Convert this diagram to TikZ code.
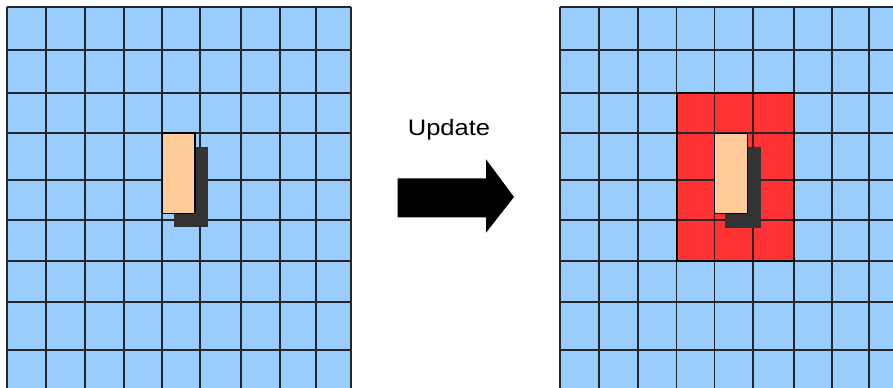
\documentclass[tikz,border=0pt]{standalone}
\usepackage{fontspec}
\setsansfont{Liberation Sans}
\usetikzlibrary{calc}
\definecolor{cellblue}{RGB}{153,204,255}
\definecolor{hitred}{RGB}{255,51,51}
\definecolor{objorange}{RGB}{255,204,153}
\definecolor{objshadow}{RGB}{51,51,51}

\begin{document}
\begin{tikzpicture}[x=0.75pt, y=-0.75pt,
  gridline/.style={draw=black!85, line width=1.4pt},
  cell/.style={fill=cellblue},
  obj/.style={draw=black, line width=1pt, fill=objorange},
  objshade/.style={fill=objshadow},
  lbl/.style={font=\sffamily\fontsize{16.8}{20}\selectfont, inner sep=0pt}]
  \useasboundingbox (0,0) rectangle (893,388);
  \clip (0,0) rectangle (893,388);
  % the two grids
  \foreach \gx in {7.3,560}
    \fill[cell] (\gx,7.3) rectangle ++(343.4,390);
  \fill[hitred] (676.5,92.7) rectangle (794,261.3);
  \foreach \gx in {7.3,560}{
    \foreach \cx in {0,38.8,78,116.5,154.5,193,234,272.3,309,343.4}
      \draw[gridline] ({\gx+\cx},7.3) -- ({\gx+\cx},400);
    \foreach \ry in {7.3,50,92.7,133,180.3,220.3,261.3,302,350}
      \draw[gridline] (\gx,\ry) -- ({\gx+343.4},\ry);
  }
  \draw[black, line width=1.5pt] (676.5,92.7) rectangle (794,261.3);
  % object and its shadow
  \fill[objshade] (174,147) rectangle (208,227.5);
  \draw[obj] (162.3,133) rectangle (195,213.3);
  \fill[objshade] (725,147) rectangle (761,228);
  \draw[obj] (714.5,133.5) rectangle (747.3,213.3);
  % update arrow
  \node[lbl, anchor=base] (update) at (449,136) {\scalebox{1.14}[1]{Update}};
  \coordinate (tail) at (397.7,197.8);
  \coordinate (tip) at (514,197);
  \fill[black] (397.7,178.3) -- (486,178.3) -- (486,159.3) -- (tip)
    -- (486,232.7) -- (486,217.3) -- (397.7,217.3) -- cycle;
\end{tikzpicture}
\end{document}
